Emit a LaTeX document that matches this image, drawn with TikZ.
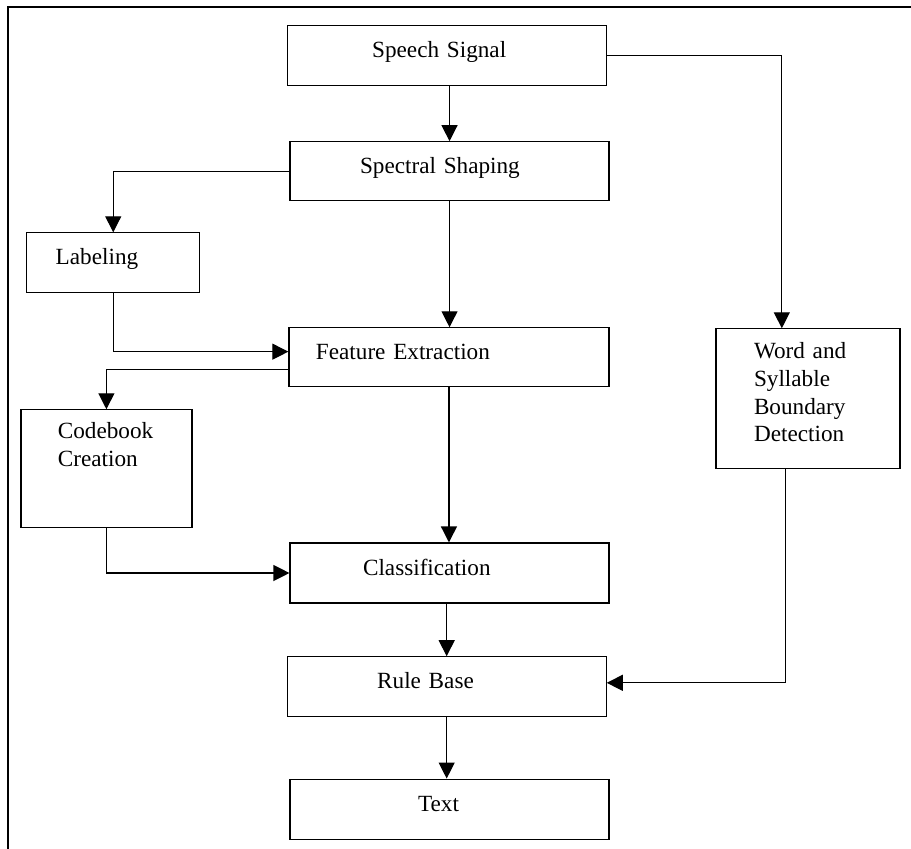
\documentclass[tikz,border=0pt]{standalone}
\usepackage{fontspec}
\setmainfont{Liberation Serif}
\usetikzlibrary{arrows.meta,positioning,calc}

\begin{document}
\begin{tikzpicture}[>={Triangle[length=8pt,width=8pt]},line width=0.6pt,
  box/.style 2 args={draw,align=left,font=\fontsize{11.6}{13.8}\selectfont,
    text width=#1,inner xsep=#2,inner ysep=0pt,text height=8pt,text depth=6pt}]
  \useasboundingbox (0,0) rectangle (16.01,-14.92);
  %% Page frame (runs off at right and bottom)
  \draw[line width=0.8pt] (0.14,-14.92) -- (0.14,-0.12) -- (16.01,-0.12);
  %% Main column
  \node[box={74.5pt}{42.5pt},minimum height=30pt] (speech)   at (7.85,-0.98)  {Speech Signal};
  \node[box={89.5pt}{35pt},minimum height=29.5pt] (shaping)  at (7.90,-3.01)  {Spectral Shaping};
  \node[box={133pt}{13.5pt},minimum height=29.5pt] (features) at (7.89,-6.28)  {Feature Extraction};
  \node[box={86.5pt}{36.5pt},minimum height=30pt] (classify) at (7.90,-10.07) {Classification};
  \node[box={69.5pt}{45pt},minimum height=30pt]   (rules)    at (7.85,-12.07) {Rule Base};
  \node[box={31.5pt}{64pt},minimum height=30pt]   (txt)      at (7.90,-14.22) {Text};
  %% Left branch
  \node[box={57.5pt}{14.5pt},minimum height=30pt] (labeling) at (1.99,-4.62)  {Labeling};
  \node[box={48.5pt}{18.5pt},minimum height=59pt,text depth=38pt]
        (codebook) at (1.87,-8.24) {Codebook\\Creation};
  %% Right branch
  \node[box={54pt}{19pt},minimum height=70pt,text depth=48pt]
        (boundary) at (14.20,-7.01) {Word and\\Syllable\\Boundary\\Detection};
  %% Connectors down the middle
  \draw[->] (speech.south -| shaping.north) -- (shaping.north);
  \draw[->] (shaping.south) -- (shaping.south |- features.north);
  \draw[->] (features.south) -- (features.south |- classify.north);
  \draw[->] (classify.south -| rules.north) -- (rules.north);
  \draw[->] (rules.south) -- (rules.south |- txt.north);
  %% Connectors on the left
  \draw[->] (shaping.west) -| (labeling.north);
  \draw[->] (labeling.south) |- ([yshift=0.1cm]features.west);
  \draw[->] ([yshift=-0.22cm]features.west) -| (codebook.north);
  \draw[->] (codebook.south) |- (classify.west);
  %% Connectors on the right
  \draw[->] (speech.east) -| ([xshift=-0.46cm]boundary.north);
  \draw[->] ([xshift=-0.39cm]boundary.south) |- ([yshift=0.07cm]rules.east);
\end{tikzpicture}
\end{document}
